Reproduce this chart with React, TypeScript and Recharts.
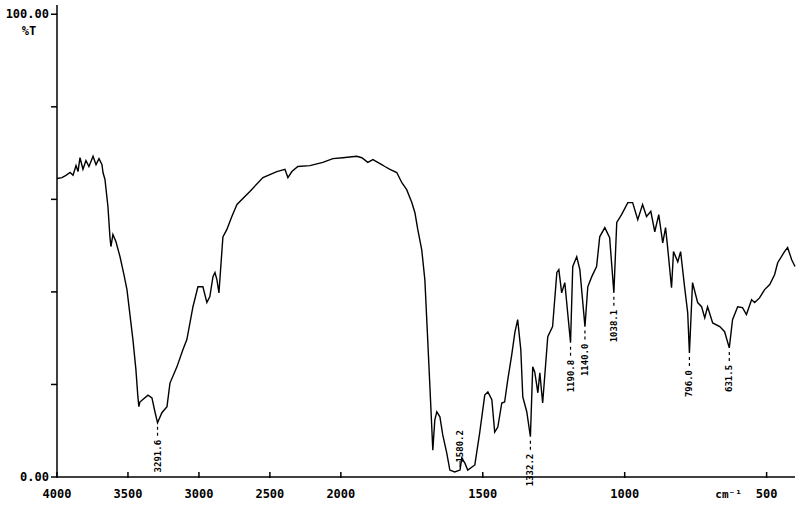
import { LineChart, Line, XAxis, YAxis } from "recharts"

// wavenumber (cm-1) and %T
const wavenumbers = [
  4000, 3965, 3937, 3908, 3887, 3866, 3852, 3838, 3817, 3796, 3775, 3746, 3725, 3704, 3683, 3676,
  3662, 3641, 3627, 3620, 3606, 3585, 3556, 3528, 3507, 3465, 3444, 3430, 3423, 3416, 3359, 3331,
  3310, 3291.6, 3261, 3225, 3204, 3155, 3113, 3085, 3042, 3007, 2972, 2944, 2923, 2901, 2887, 2873,
  2859, 2831, 2803, 2768, 2732, 2641, 2549, 2451, 2394, 2373, 2345, 2303, 2218, 2127, 2056, 1993,
  1944, 1926, 1905, 1887, 1870, 1856, 1845, 1827, 1803, 1785, 1768, 1750, 1739, 1729, 1715, 1704,
  1694, 1683, 1676, 1669, 1662, 1651, 1641, 1627, 1616, 1599, 1580.2, 1574, 1563, 1553, 1528, 1511,
  1493, 1482, 1468, 1458, 1447, 1433, 1423, 1412, 1398, 1387, 1377, 1366, 1359, 1345, 1332.2, 1324,
  1317, 1310, 1306, 1299, 1289, 1271, 1254, 1239, 1232, 1222, 1211, 1190.8, 1183, 1169, 1158, 1140,
  1130, 1116, 1099, 1088, 1070, 1053, 1038.1, 1028, 1011, 989, 972, 954, 937, 923, 908, 894,
  880, 866, 856, 849, 835, 828, 813, 803, 789, 778, 772, 761, 743, 729, 718, 708,
  690, 665, 648, 631.5, 620, 602, 585, 571, 553, 542, 525, 507, 489, 472, 461, 437,
  426, 412, 400,
]

const transmittance = [
  64.5, 64.7, 65.2, 65.8, 65.2, 67.3, 66.0, 69.0, 66.5, 68.4, 67.1, 69.3, 67.5, 68.8, 67.5, 65.8,
  64.3, 58.4, 51.9, 49.8, 52.4, 50.9, 47.6, 43.7, 40.5, 29.7, 23.2, 17.3, 15.2, 16.2, 17.7, 17.1,
  14.1, 11.7, 13.9, 15.2, 20.3, 23.8, 27.5, 29.7, 36.8, 41.1, 41.1, 37.7, 39.0, 43.3, 44.2, 42.6,
  39.8, 51.9, 53.5, 56.3, 58.9, 61.7, 64.7, 66.0, 66.5, 64.7, 66.0, 67.1, 67.3, 68.0, 68.8, 69.0,
  69.3, 69.0, 68.0, 68.6, 68.0, 67.5, 67.1, 66.5, 65.8, 63.6, 62.1, 59.3, 57.1, 53.5, 49.1, 42.6,
  29.7, 15.2, 5.8, 12.3, 14.1, 13.0, 9.1, 5.2, 1.5, 1.1, 1.5, 4.1, 3.0, 1.5, 2.6, 9.5,
  17.7, 18.4, 16.7, 9.7, 10.8, 16.0, 16.2, 21.0, 26.4, 31.2, 34.0, 27.5, 17.3, 14.1, 8.7, 23.8,
  22.7, 19.9, 18.2, 22.5, 16.0, 30.3, 32.5, 44.2, 44.8, 39.8, 42.0, 29.0, 45.5, 47.6, 44.8, 32.5,
  41.1, 43.3, 45.5, 51.9, 53.9, 51.7, 39.8, 55.0, 56.7, 59.3, 59.3, 55.6, 58.9, 56.3, 57.4, 53.0,
  56.7, 50.6, 53.9, 49.8, 40.9, 48.7, 46.5, 48.7, 41.1, 35.5, 26.8, 42.0, 37.7, 36.8, 34.4, 36.8,
  33.3, 32.5, 31.4, 27.9, 34.0, 36.8, 36.6, 35.1, 38.3, 37.7, 38.7, 40.5, 41.6, 43.7, 46.3, 48.7,
  49.6, 47.0, 45.5,
]

// marked peaks: wavenumber of the dip and the printed label
const peakWavenumbers = [3291.6, 1580.2, 1332.2, 1190.8, 1140, 1038.1, 772, 631.5]
const peakLabels = ["3291.6", "1580.2", "1332.2", "1190.8", "1140.0", "1038.1", "796.0", "631.5"]

const xTickLabels = [4000, 3500, 3000, 2500, 2000, 1500, 1000, 500]
const yTicks = [0, 20, 40, 60, 80, 100]

// the instrument halves the scale above 2000 cm-1
const toPos = (w: number) => (w >= 2000 ? (4000 - w) / 2 : 1000 + (2000 - w))
const fromPos = (p: number) => (p <= 1000 ? 4000 - p * 2 : 2000 - (p - 1000))

const data = wavenumbers.map((w, i) => {
  const k = peakWavenumbers.indexOf(w)
  return { p: toPos(w), t: transmittance[i], peak: k >= 0 ? peakLabels[k] : null }
})

const FONT = "'DejaVu Sans Mono', monospace"

function XTick({ x, y, payload }: any) {
  const w = fromPos(payload.value)
  return (
    <g>
      <line x1={x} x2={x} y1={y - 5} y2={y + 1} stroke="#000" strokeWidth={1.5} />
      <text x={x} y={y + 21} textAnchor="middle" fontFamily={FONT} fontWeight="bold" fontSize={12} fill="#000">
        {w}
      </text>
      {w === 500 && (
        <text x={x - 38} y={y + 21} textAnchor="middle" fontFamily={FONT} fontWeight="bold" fontSize={11} fill="#000">
          cm⁻¹
        </text>
      )}
    </g>
  )
}

function YTick({ x, y, payload }: any) {
  const v = payload.value
  if (v !== 0 && v !== 100) return <g />
  return (
    <g>
      <text x={x} y={y + 4} textAnchor="end" fontFamily={FONT} fontWeight="bold" fontSize={12} fill="#000">
        {v.toFixed(2)}
      </text>
      {v === 100 && (
        <text x={x - 20} y={y + 21} textAnchor="middle" fontFamily={FONT} fontWeight="bold" fontSize={12} fill="#000">
          %T
        </text>
      )}
    </g>
  )
}

function PeakMark(props: any) {
  const { cx, cy, payload, index } = props
  if (!payload.peak) return <g key={index} />
  const above = payload.t < 5
  if (above) {
    const top = cy - 40
    return (
      <g key={index}>
        <text transform={`rotate(-90, ${cx + 3}, ${top})`} x={cx + 3} y={top} textAnchor="end"
          fontFamily={FONT} fontWeight="bold" fontSize={9} fill="#000">
          {payload.peak}
        </text>
        <line x1={cx} x2={cx} y1={cy - 9} y2={cy - 3} stroke="#000" strokeWidth={1} />
      </g>
    )
  }
  const top = cy + 17
  return (
    <g key={index}>
      <line x1={cx} x2={cx} y1={cy + 4} y2={cy + 14} stroke="#000" strokeWidth={1.2} strokeDasharray="3 3" />
      <text transform={`rotate(-90, ${cx + 3}, ${top})`} x={cx + 3} y={top} textAnchor="end"
        fontFamily={FONT} fontWeight="bold" fontSize={9} fill="#000">
        {payload.peak}
      </text>
    </g>
  )
}

export default function App() {
  return (
    <div style={{ position: "absolute", left: 0, top: 0, width: 800, height: 506, background: "#fff" }}>
      <LineChart width={800} height={506} data={data} margin={{ top: 5, right: 5, left: 0, bottom: 0 }}>
        <XAxis
          type="number"
          dataKey="p"
          domain={[0, 2600]}
          ticks={xTickLabels.map(toPos)}
          tick={<XTick />}
          tickLine={false}
          tickSize={0}
          tickMargin={0}
          interval={0}
          height={29}
          axisLine={{ stroke: "#000", strokeWidth: 1.5 }}
        />
        <YAxis
          type="number"
          domain={[0, 102]}
          ticks={yTicks}
          tick={<YTick />}
          tickSize={6}
          tickMargin={2}
          interval={0}
          width={57}
          tickLine={{ stroke: "#000", strokeWidth: 1.5 }}
          axisLine={{ stroke: "#000", strokeWidth: 1.5 }}
        />
        <Line
          type="linear"
          dataKey="t"
          stroke="#000"
          strokeWidth={1.4}
          dot={PeakMark}
          activeDot={false}
          isAnimationActive={false}
        />
      </LineChart>
    </div>
  )
}
